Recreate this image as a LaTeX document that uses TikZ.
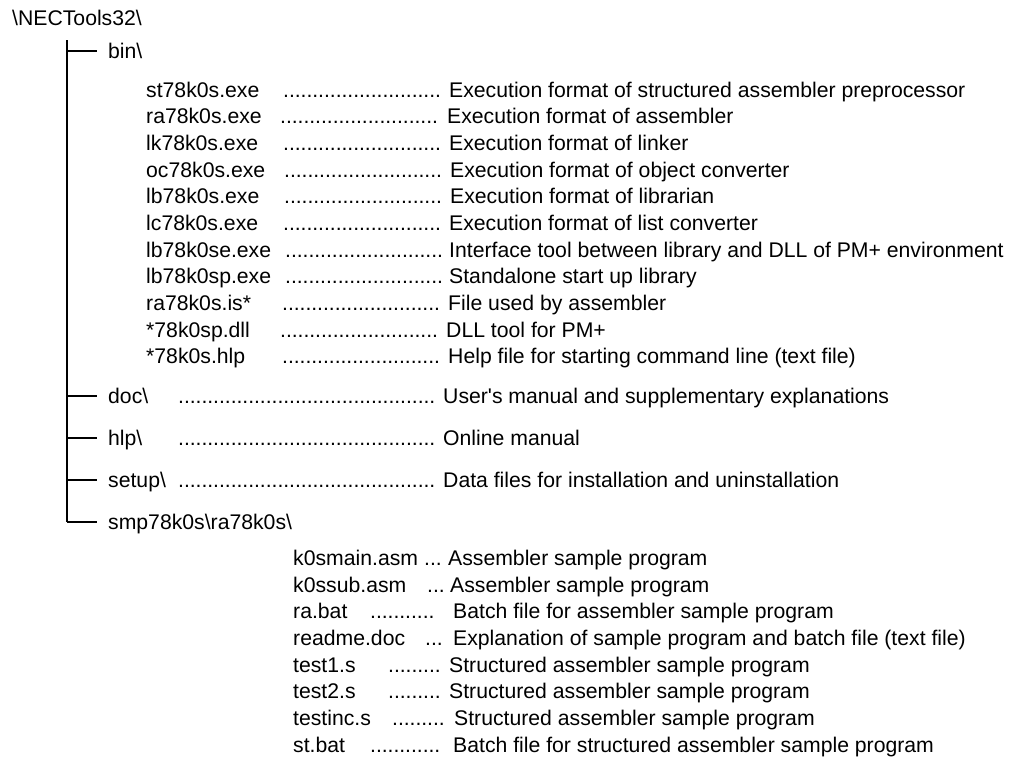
\documentclass[tikz,border=0pt]{standalone}
\usepackage{fontspec}
\setmainfont{Liberation Sans}
\newcommand\dotsto[1]{\hbox to #1pt{\leaders\hbox to 5.84pt{\hss.\hss}\hfill}}
\tikzset{
  txt/.style={inner sep=0pt, anchor=base west, font=\fontsize{21.2}{25}\selectfont},
  branch/.style={line width=1.8pt},
}
\begin{document}
\begin{tikzpicture}[x=1pt,y=-1pt]
\useasboundingbox (0,0) rectangle (1010,756);
% root
\node[txt] (root) at (12,25) {\textbackslash NECTools32\textbackslash};
% trunk coordinates
\coordinate (ttop) at (67,40);
\coordinate (tbin) at (67,51);   \coordinate (ebin) at (97,51);
\coordinate (tdoc) at (67,396);  \coordinate (edoc) at (97,396);
\coordinate (thlp) at (67,438);  \coordinate (ehlp) at (97,438);
\coordinate (tset) at (67,480);  \coordinate (eset) at (97,480);
\coordinate (tsmp) at (67,522);  \coordinate (esmp) at (97,522);
\draw[branch] (ttop) -- (tsmp);
\draw[branch] (tbin) -- (ebin);
\draw[branch] (tdoc) -- (edoc);
\draw[branch] (thlp) -- (ehlp);
\draw[branch] (tset) -- (eset);
\draw[branch] (tsmp) -- (esmp);
% folders
\node[txt] (bin) at (108,58) {bin\textbackslash};
\node[txt] (doc) at (108,403) {doc\textbackslash};
\node[txt] (hlp) at (108,445) {hlp\textbackslash};
\node[txt] (setup) at (108,487) {setup\textbackslash};
\node[txt] (smp) at (108,529) {smp78k0s\textbackslash ra78k0s\textbackslash};
\node[txt] (docd) at (178,403) {\dotsto{260}};
\node[txt] (hlpd) at (178,445) {\dotsto{260}};
\node[txt] (setd) at (178,487) {\dotsto{260}};
\node[txt] (docx) at (443,403) {User\textquotesingle s manual and supplementary explanations};
\node[txt] (hlpx) at (443,445) {Online manual};
\node[txt] (setx) at (443,487) {Data files for installation and uninstallation};
% bin files
\node[txt] (f1) at (146,97) {st78k0s.exe};
\node[txt] (d1) at (283,97) {\dotsto{160}};
\node[txt] (x1) at (449,97) {Execution format of structured assembler preprocessor};
\node[txt] (f2) at (146,123.7) {ra78k0s.exe};
\node[txt] (d2) at (280,123.7) {\dotsto{160}};
\node[txt] (x2) at (447,123.7) {Execution format of assembler};
\node[txt] (f3) at (146,150.3) {lk78k0s.exe};
\node[txt] (d3) at (283,150.3) {\dotsto{160}};
\node[txt] (x3) at (449,150.3) {Execution format of linker};
\node[txt] (f4) at (146,177) {oc78k0s.exe};
\node[txt] (d4) at (284,177) {\dotsto{160}};
\node[txt] (x4) at (450,177) {Execution format of object converter};
\node[txt] (f5) at (146,203.7) {lb78k0s.exe};
\node[txt] (d5) at (284,203.7) {\dotsto{160}};
\node[txt] (x5) at (450,203.7) {Execution format of librarian};
\node[txt] (f6) at (146,230.3) {lc78k0s.exe};
\node[txt] (d6) at (283,230.3) {\dotsto{160}};
\node[txt] (x6) at (449,230.3) {Execution format of list converter};
\node[txt] (f7) at (146,257) {lb78k0se.exe};
\node[txt] (d7) at (285,257) {\dotsto{158}};
\node[txt] (x7) at (449,257) {Interface tool between library and DLL of PM+ environment};
\node[txt] (f8) at (146,283.7) {lb78k0sp.exe};
\node[txt] (d8) at (285,283.7) {\dotsto{158}};
\node[txt] (x8) at (449,283.7) {Standalone start up library};
\node[txt] (f9) at (146,310.3) {ra78k0s.is*};
\node[txt] (d9) at (282,310.3) {\dotsto{160}};
\node[txt] (x9) at (448,310.3) {File used by assembler};
\node[txt] (f10) at (146,337) {*78k0sp.dll};
\node[txt] (d10) at (280,337) {\dotsto{160}};
\node[txt] (x10) at (446,337) {DLL tool for PM+};
\node[txt] (f11) at (146,363.7) {*78k0s.hlp};
\node[txt] (d11) at (282,363.7) {\dotsto{160}};
\node[txt] (x11) at (448,363.7) {Help file for starting command line (text file)};
% sample files
\node[txt] (s1) at (293,565.3) {k0smain.asm};
\node[txt] (e1) at (424,565.3) {...};
\node[txt] (y1) at (448,565.3) {Assembler sample program};
\node[txt] (s2) at (293,592) {k0ssub.asm};
\node[txt] (e2) at (427,592) {...};
\node[txt] (y2) at (450,592) {Assembler sample program};
\node[txt] (s3) at (293,618.7) {ra.bat};
\node[txt] (e3) at (370,618.7) {\dotsto{70}};
\node[txt] (y3) at (453,618.7) {Batch file for assembler sample program};
\node[txt] (s4) at (293,645.3) {readme.doc};
\node[txt] (e4) at (425,645.3) {...};
\node[txt] (y4) at (453,645.3) {Explanation of sample program and batch file (text file)};
\node[txt] (s5) at (293,672) {test1.s};
\node[txt] (e5) at (388,672) {\dotsto{58}};
\node[txt] (y5) at (449,672) {Structured assembler sample program};
\node[txt] (s6) at (293,698.7) {test2.s};
\node[txt] (e6) at (388,698.7) {\dotsto{58}};
\node[txt] (y6) at (449,698.7) {Structured assembler sample program};
\node[txt] (s7) at (293,725.3) {testinc.s};
\node[txt] (e7) at (392,725.3) {\dotsto{54}};
\node[txt] (y7) at (454,725.3) {Structured assembler sample program};
\node[txt] (s8) at (293,752) {st.bat};
\node[txt] (e8) at (370,752) {\dotsto{72}};
\node[txt] (y8) at (453,752) {Batch file for structured assembler sample program};
\end{tikzpicture}
\end{document}
